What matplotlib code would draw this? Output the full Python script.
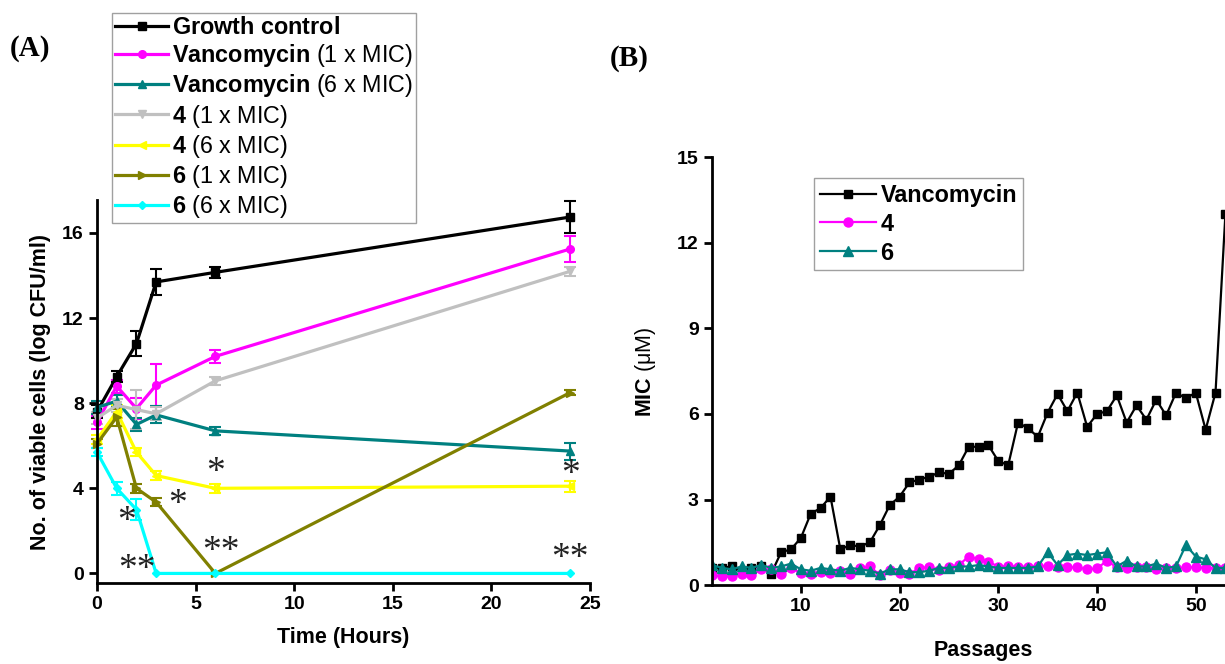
"""Two-panel figure: (A) time-kill curves, (B) resistance development over passages."""
import numpy as np
import matplotlib
matplotlib.use("Agg")
import matplotlib.pyplot as plt
from matplotlib.lines import Line2D

plt.rcParams.update({
    "font.family": "Liberation Sans",
    "mathtext.fontset": "custom",
    "mathtext.rm": "Liberation Sans",
    "mathtext.bf": "Liberation Sans:bold",
    "mathtext.it": "Liberation Sans:italic",
    "axes.spines.top": False,
    "axes.spines.right": False,
})

# ---- panel A data: log CFU/ml vs time (hours) ----
hours = [0, 1, 2, 3, 6, 24]
growth = [7.6, 9.25, 10.8, 13.7, 14.15, 16.75]
growth_err = [0.3, 0.25, 0.6, 0.6, 0.25, 0.75]
vanc_1x = [7.1, 8.8, 7.75, 8.85, 10.2, 15.25]
vanc_1x_err = [0.3, 0.3, 0.5, 1.0, 0.3, 0.6]
vanc_6x = [7.8, 8.1, 7.0, 7.45, 6.7, 5.75]
vanc_6x_err = [0.3, 0.3, 0.3, 0.4, 0.2, 0.4]
c4_1x = [7.3, 7.9, 7.7, 7.5, 9.05, 14.2]
c4_1x_err = [0.3, 0.3, 0.9, 0.3, 0.2, 0.2]
c4_6x = [6.3, 7.6, 5.7, 4.6, 4.0, 4.1]
c4_6x_err = [0.2, 0.3, 0.2, 0.2, 0.2, 0.25]
c6_1x = [6.1, 7.35, 4.0, 3.35, 0.0, 8.5]
c6_1x_err = [0.2, 0.4, 0.2, 0.2, np.nan, 0.1]
c6_6x = [5.7, 4.0, 3.0, 0.0, 0.0, 0.0]
c6_6x_err = [0.2, 0.3, 0.5, np.nan, np.nan, np.nan]

# significance marks (time, y, text)
sig_t = [6, 24, 4.1, 1.5, 2.0, 6.3, 24]
sig_y = [4.75, 4.65, 3.25, 2.45, 0.15, 1.0, 0.7]
sig_txt = ["*", "*", "*", "*", "**", "**", "**"]

# ---- panel B data: MIC (uM) per passage ----
passages = list(range(1, 54))
mic_vanc = [0.6, 0.6, 0.65, 0.5, 0.6, 0.65, 0.4, 1.15, 1.25, 1.65,
            2.5, 2.7, 3.1, 1.25, 1.4, 1.35, 1.5, 2.1, 2.8, 3.1,
            3.6, 3.7, 3.8, 3.95, 3.9, 4.2, 4.85, 4.85, 4.9, 4.35,
            4.2, 5.7, 5.5, 5.2, 6.05, 6.7, 6.1, 6.75, 5.55, 6.0,
            6.1, 6.65, 5.7, 6.3, 5.8, 6.5, 5.95, 6.75, 6.55, 6.75,
            5.45, 6.75, 13.0]
mic_4 = [0.35, 0.3, 0.3, 0.38, 0.35, 0.55, 0.55, 0.38, 0.58, 0.43,
         0.4, 0.47, 0.43, 0.5, 0.4, 0.58, 0.65, 0.35, 0.52, 0.43,
         0.4, 0.58, 0.64, 0.52, 0.64, 0.7, 1.0, 0.9, 0.82, 0.64,
         0.67, 0.64, 0.64, 0.67, 0.67, 0.62, 0.62, 0.62, 0.55, 0.58,
         0.85, 0.62, 0.58, 0.62, 0.62, 0.55, 0.6, 0.58, 0.62, 0.62,
         0.6, 0.58, 0.58]
mic_6 = [0.7, 0.6, 0.55, 0.65, 0.6, 0.7, 0.6, 0.65, 0.75, 0.55,
         0.5, 0.6, 0.55, 0.5, 0.6, 0.55, 0.5, 0.4, 0.55, 0.55,
         0.45, 0.45, 0.5, 0.6, 0.6, 0.65, 0.65, 0.7, 0.65, 0.6,
         0.6, 0.6, 0.6, 0.65, 1.15, 0.7, 1.05, 1.1, 1.05, 1.1,
         1.15, 0.65, 0.85, 0.65, 0.65, 0.75, 0.6, 0.65, 1.4, 1.0,
         0.9, 0.6, 0.6]

fig = plt.figure(figsize=(12.25, 6.64), dpi=100)

# ================= panel A =================
axA = fig.add_axes([97 / 1225, 81 / 664, 493 / 1225, 383 / 664])
series_A = [
    (growth, growth_err, "black", "s", r"$\mathbf{Growth\ control}$"),
    (vanc_1x, vanc_1x_err, "#ff00ff", "o", r"$\mathbf{Vancomycin}$ (1 x MIC)"),
    (vanc_6x, vanc_6x_err, "#008080", "^", r"$\mathbf{Vancomycin}$ (6 x MIC)"),
    (c4_1x, c4_1x_err, "#c0c0c0", "v", r"$\mathbf{4}$ (1 x MIC)"),
    (c4_6x, c4_6x_err, "#ffff00", "<", r"$\mathbf{4}$ (6 x MIC)"),
    (c6_1x, c6_1x_err, "#808000", ">", r"$\mathbf{6}$ (1 x MIC)"),
    (c6_6x, c6_6x_err, "#00ffff", "D", r"$\mathbf{6}$ (6 x MIC)"),
]
handles, labels = [], []
for vals, err, col, mk, lab in series_A:
    ms = 4.5 if mk == "D" else 5.5
    axA.errorbar(hours, vals, yerr=err, color=col, marker=mk, ms=ms, lw=2.3,
                 elinewidth=1.5, capsize=4, capthick=1.5, clip_on=False)
    handles.append(Line2D([], [], color=col, marker=mk, ms=ms, lw=2.3))
    labels.append(lab)

for t, y, s in zip(sig_t, sig_y, sig_txt):
    axA.text(t, y, s, ha="center", va="center", fontsize=27,
             family="Liberation Serif", color="#222")

axA.set_xlim(0, 25)
axA.set_ylim(-0.45, 17.55)
axA.set_xticks([0, 5, 10, 15, 20, 25])
axA.set_yticks([0, 4, 8, 12, 16])
axA.set_xlabel("Time (Hours)", fontsize=15.5, fontweight="bold", labelpad=10)
axA.set_ylabel("No. of viable cells (log CFU/ml)", fontsize=15.5, fontweight="bold", labelpad=8)

fig.legend(handles, labels, loc="upper left",
           bbox_to_anchor=(112 / 1225, 1 - 13 / 664), fontsize=16.8,
           frameon=True, fancybox=False, edgecolor="#888", borderpad=0.12,
           labelspacing=0.14, handlelength=2.3, handletextpad=0.15,
           borderaxespad=0)

# ================= panel B =================
axB = fig.add_axes([712 / 1225, 79 / 664, 543 / 1225, 427.5 / 664])
axB.plot(passages, mic_vanc, color="black", marker="s", ms=6, lw=1.6, label="Vancomycin")
axB.plot(passages, mic_4, color="#ff00ff", marker="o", ms=6.5, lw=1.6, label="4")
axB.plot(passages, mic_6, color="#008080", marker="^", ms=7, lw=1.6, label="6")
axB.set_xlim(1, 56)
axB.set_ylim(0, 15)
axB.set_xticks([10, 20, 30, 40, 50])
axB.set_yticks([0, 3, 6, 9, 12, 15])
axB.set_xlabel("Passages", fontsize=15.5, fontweight="bold", labelpad=18)
axB.set_ylabel(r"$\mathbf{MIC}$ (μM)", fontsize=15.5, labelpad=14)
axB.legend(loc="upper left", bbox_to_anchor=(814 / 1225, 1 - 178 / 664),
           bbox_transform=fig.transFigure, prop={"weight": "bold", "size": 16.8},
           frameon=True, fancybox=False, edgecolor="#888", borderpad=0.25,
           labelspacing=0.25, handlelength=2.4, handletextpad=0.2, borderaxespad=0)

for ax in (axA, axB):
    for sp in ("left", "bottom"):
        ax.spines[sp].set_linewidth(2)
    ax.tick_params(direction="out", length=6, width=2, labelsize=14)
    for lab in ax.get_xticklabels() + ax.get_yticklabels():
        lab.set_fontweight("bold")

fig.text(30 / 1225, 1 - 49 / 664, "(A)", fontsize=21, fontweight="bold",
         family="Liberation Serif", ha="center", va="center")
fig.text(629 / 1225, 1 - 59 / 664, "(B)", fontsize=21, fontweight="bold",
         family="Liberation Serif", ha="center", va="center")

fig.savefig("out.png", dpi=100)
